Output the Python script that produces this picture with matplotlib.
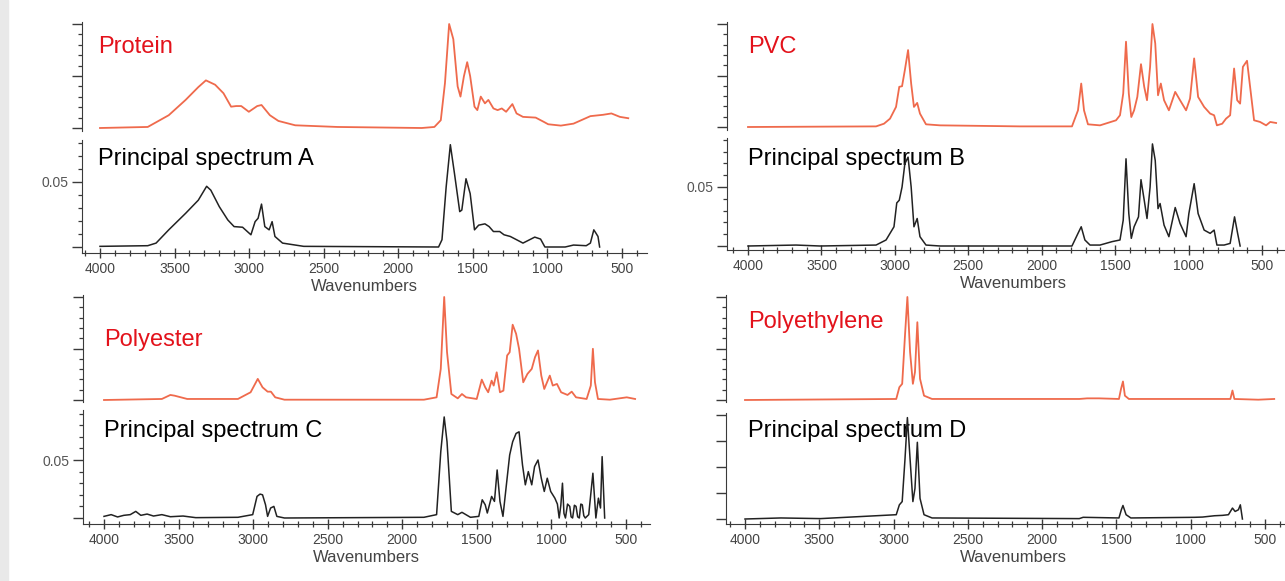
import matplotlib
matplotlib.use("Agg")
import matplotlib.pyplot as plt
from matplotlib.ticker import MultipleLocator, FixedLocator, FuncFormatter, NullLocator
from matplotlib.patches import Rectangle

plt.rcParams['font.family'] = ['Liberation Sans', 'DejaVu Sans']

# ---- data (wavenumber, value) ----
# Protein reference (normalised) and principal spectrum A (absorbance)
protein_wn = [4000, 3680, 3539, 3426, 3341, 3290, 3228, 3172, 3121, 3087, 3053, 3002, 2946, 2917,
              2861, 2804, 2691, 2408, 1843, 1758, 1715, 1687, 1659, 1631, 1602, 1583, 1560, 1538,
              1518, 1489, 1470, 1447, 1419, 1396, 1362, 1334, 1306, 1277, 1235, 1207, 1164, 1079,
              1023, 995, 910, 825, 712, 627, 571, 514, 458]
protein_val = [0, 0.01, 0.123, 0.27, 0.393, 0.458, 0.416, 0.334, 0.205, 0.211, 0.211, 0.156, 0.211,
               0.221, 0.123, 0.068, 0.026, 0.01, 0, 0.01, 0.075, 0.432, 1.0, 0.854, 0.4, 0.302,
               0.497, 0.633, 0.497, 0.205, 0.172, 0.302, 0.237, 0.27, 0.188, 0.172, 0.188, 0.156,
               0.23, 0.14, 0.107, 0.1, 0.058, 0.036, 0.023, 0.042, 0.114, 0.127, 0.14, 0.107, 0.094]
specA_wn = [4000, 3680, 3624, 3539, 3426, 3341, 3285, 3257, 3200, 3143, 3101, 3044, 2988, 2960,
            2940, 2917, 2895, 2866, 2846, 2827, 2776, 2634, 1730, 1707, 1679, 1651, 1623, 1588,
            1574, 1546, 1518, 1489, 1461, 1419, 1391, 1362, 1320, 1291, 1249, 1207, 1164, 1085,
            1046, 1017, 881, 825, 740, 712, 689, 675, 661, 650]
specA_val = [0.0005, 0.001, 0.003, 0.0132, 0.0259, 0.036, 0.0467, 0.0437, 0.031, 0.0208, 0.0157,
             0.0152, 0.0094, 0.0195, 0.0221, 0.033, 0.0157, 0.0132, 0.0195, 0.0081, 0.003, 0.0005,
             0, 0.0056, 0.0462, 0.0787, 0.0563, 0.0272, 0.0284, 0.0525, 0.0411, 0.0132, 0.0168,
             0.0178, 0.0157, 0.0119, 0.0119, 0.0094, 0.0081, 0.0056, 0.003, 0.0076, 0.0061, 0,
             0, 0.0015, 0.001, 0.003, 0.0132, 0.0107, 0.0081, 0]

# PVC reference and principal spectrum B
pvc_wn = [4000, 3128, 3074, 3033, 2992, 2970, 2951, 2932, 2910, 2889, 2870, 2848, 2829, 2788, 2692,
          2148, 1794, 1753, 1731, 1712, 1685, 1603, 1494, 1467, 1445, 1426, 1407, 1390, 1371, 1349,
          1324, 1302, 1283, 1262, 1246, 1227, 1208, 1189, 1167, 1134, 1091, 1058, 1017, 990, 962,
          935, 894, 853, 826, 807, 771, 745, 717, 690, 669, 649, 630, 602, 581, 554, 513, 472,
          444, 404]
pvc_val = [0, 0.006, 0.032, 0.081, 0.195, 0.39, 0.396, 0.552, 0.747, 0.422, 0.195, 0.234, 0.13,
           0.026, 0.016, 0.006, 0.006, 0.162, 0.422, 0.162, 0.026, 0.016, 0.065, 0.114, 0.325,
           0.828, 0.325, 0.097, 0.162, 0.292, 0.61, 0.39, 0.26, 0.584, 1.0, 0.812, 0.308, 0.422,
           0.26, 0.162, 0.341, 0.26, 0.162, 0.276, 0.666, 0.292, 0.195, 0.13, 0.114, 0.016, 0.032,
           0.081, 0.114, 0.568, 0.26, 0.227, 0.584, 0.643, 0.39, 0.065, 0.049, 0.016, 0.049, 0.039]
specB_wn = [4000, 3673, 3510, 3128, 3060, 3006, 2987, 2970, 2951, 2932, 2910, 2889, 2870, 2848,
            2829, 2788, 2692, 1794, 1753, 1731, 1706, 1671, 1603, 1521, 1467, 1445, 1426, 1407,
            1390, 1371, 1341, 1324, 1302, 1283, 1262, 1246, 1227, 1208, 1194, 1167, 1134, 1091,
            1058, 1017, 998, 962, 935, 894, 853, 826, 807, 758, 717, 687, 666, 649]
specB_val = [0, 0.0008, 0, 0.0008, 0.0051, 0.0163, 0.0365, 0.0388, 0.05, 0.0697, 0.0753, 0.05,
             0.0163, 0.0233, 0.0079, 0.0008, 0, 0, 0.0107, 0.0163, 0.0051, 0.0008, 0.0008, 0.0037,
             0.0051, 0.0219, 0.0739, 0.0275, 0.0065, 0.0163, 0.0247, 0.0562, 0.0388, 0.0233, 0.05,
             0.0865, 0.0725, 0.0317, 0.036, 0.0177, 0.0079, 0.0326, 0.0191, 0.0079, 0.0275, 0.0528,
             0.0275, 0.0135, 0.0107, 0.0135, 0.0008, 0.0008, 0.0022, 0.0247, 0.0107, 0]

# Polyester reference and principal spectrum C
polyester_wn = [4000, 3612, 3555, 3527, 3442, 3102, 3017, 2969, 2937, 2903, 2881, 2852, 2790, 1855,
                1770, 1742, 1719, 1700, 1671, 1628, 1600, 1572, 1501, 1467, 1444, 1424, 1401, 1387,
                1367, 1345, 1322, 1297, 1280, 1260, 1237, 1217, 1189, 1161, 1132, 1110, 1090, 1068,
                1048, 1011, 991, 963, 935, 892, 864, 835, 764, 736, 722, 708, 688, 608, 495, 439]
polyester_val = [0, 0.01, 0.049, 0.042, 0.01, 0.01, 0.075, 0.205, 0.123, 0.081, 0.081, 0.026, 0.003,
                 0.003, 0.026, 0.302, 1.0, 0.464, 0.058, 0.016, 0.058, 0.026, 0.01, 0.198, 0.123,
                 0.075, 0.188, 0.14, 0.269, 0.075, 0.091, 0.432, 0.464, 0.731, 0.643, 0.497, 0.172,
                 0.253, 0.302, 0.416, 0.481, 0.237, 0.107, 0.237, 0.14, 0.156, 0.075, 0.049, 0.081,
                 0.026, 0.01, 0.14, 0.497, 0.172, 0.01, 0.003, 0.026, 0.01]
specC_wn = [4000, 3952, 3909, 3867, 3824, 3787, 3753, 3711, 3668, 3612, 3555, 3470, 3385, 3102,
            3003, 2974, 2954, 2937, 2917, 2903, 2883, 2861, 2841, 2790, 1855, 1770, 1742, 1719,
            1700, 1671, 1628, 1600, 1543, 1487, 1464, 1444, 1430, 1401, 1382, 1364, 1345, 1325,
            1302, 1280, 1260, 1237, 1217, 1194, 1175, 1155, 1132, 1113, 1090, 1068, 1048, 1028,
            1005, 977, 960, 948, 937, 926, 916, 906, 892, 877, 868, 858, 846, 835, 824, 813, 803,
            793, 783, 773, 750, 722, 702, 685, 671, 660, 643]
specC_val = [0.0014, 0.0029, 0.0009, 0.0023, 0.0029, 0.0057, 0.0023, 0.0034, 0.0017, 0.0029, 0.0011,
             0.0017, 0.0003, 0.0006, 0.0029, 0.0186, 0.0206, 0.02, 0.0114, 0.0014, 0.0086, 0.01,
             0.0014, 0, 0.0006, 0.0029, 0.0571, 0.0871, 0.0657, 0.0057, 0.0029, 0.0049, 0.0006,
             0.0014, 0.0157, 0.0114, 0.0043, 0.0186, 0.0143, 0.0414, 0.0143, 0.0014, 0.0286, 0.0543,
             0.0657, 0.0729, 0.0743, 0.0457, 0.0286, 0.04, 0.0286, 0.0443, 0.05, 0.0343, 0.0229,
             0.0343, 0.0229, 0.0171, 0.012, 0, 0.011, 0.03, 0.004, 0, 0.012, 0.01, 0.001, 0, 0.011,
             0.01, 0.001, 0, 0.012, 0.0114, 0.002, 0, 0.0029, 0.0386, 0, 0.0171, 0.0086, 0.0529, 0]

# Polyethylene reference and principal spectrum D
polyethylene_wn = [4000, 2982, 2961, 2942, 2923, 2907, 2889, 2870, 2856, 2840, 2822, 2795, 2741, 1750,
                   1697, 1617, 1483, 1469, 1456, 1443, 1416, 733, 719, 706, 545, 438]
polyethylene_val = [0, 0.01, 0.124, 0.157, 0.631, 1.0, 0.467, 0.157, 0.271, 0.755, 0.206, 0.042,
                    0.01, 0.01, 0.016, 0.016, 0.01, 0.108, 0.18, 0.042, 0.01, 0.01, 0.092, 0.01,
                    0.003, 0.01]
specD_wn = [4000, 3759, 3491, 2982, 2961, 2942, 2923, 2907, 2889, 2870, 2856, 2840, 2822, 2795, 2741,
            1750, 1724, 1483, 1467, 1456, 1435, 1403, 974, 920, 840, 786, 746, 719, 701, 679, 666, 652]
specD_val = [0, 0.0008, 0.0003, 0.0033, 0.0109, 0.0134, 0.0463, 0.078, 0.0463, 0.0134, 0.0235, 0.059,
             0.0159, 0.0033, 0.0008, 0.0003, 0.0013, 0.0008, 0.0071, 0.0104, 0.0033, 0.0008, 0.0013,
             0.0015, 0.0025, 0.0028, 0.0033, 0.0084, 0.0058, 0.0071, 0.0109, 0]

ref_names = ["Protein", "PVC", "Polyester", "Polyethylene"]
pc_names = ["Principal spectrum A", "Principal spectrum B", "Principal spectrum C", "Principal spectrum D"]
x_ticks = [4000, 3500, 3000, 2500, 2000, 1500, 1000, 500]

W, H = 1285, 581
RED_LINE = "#ef6a4c"
RED_TEXT = "#e3121b"
AX_COL = "#3a3a3a"

fig = plt.figure(figsize=(W / 100, H / 100), dpi=100)
fig.patches.append(Rectangle((0, 0), 8 / W, 1, transform=fig.transFigure, color="#e9e9e9", zorder=0))


def rect(x0, x1, y0, y1):
    return [x0 / W, 1 - y1 / H, (x1 - x0) / W, (y1 - y0) / H]


def style_y(ax, major, minor):
    ax.spines[['top', 'right']].set_visible(False)
    ax.spines['left'].set_color(AX_COL)
    ax.yaxis.set_major_locator(major)
    ax.yaxis.set_minor_locator(minor)
    ax.tick_params(axis='y', which='major', direction='out', length=7, width=1, color=AX_COL,
                   labelsize=10, labelcolor="#555555", pad=3)
    ax.tick_params(axis='y', which='minor', direction='out', length=3, width=0.9, color=AX_COL)


def panel(px, ref, pc, names, label_px):
    # px: x = (left, right, x of 4000, x of 500), top/bot = pixel rows of the two stacked axes
    left, right, x4000, x500 = px['x']
    ppu = (x500 - x4000) / 3500.0
    xlim = (4000 + (x4000 - left) / ppu, 4000 - (right - x4000) / ppu)

    t0, t1, tz, tone = px['top']
    ax_t = fig.add_axes(rect(left, right, t0, t1))
    k = (tz - tone)
    ax_t.set_ylim(-(t1 - tz) / k, 1 + (tone - t0) / k)
    ax_t.set_xlim(*xlim)
    ax_t.patch.set_alpha(0)
    ax_t.spines['bottom'].set_visible(False)
    ax_t.set_xticks([])
    style_y(ax_t, FixedLocator([0, 0.5, 1]), MultipleLocator(0.1))
    ax_t.yaxis.set_major_formatter(FuncFormatter(lambda v, p: ''))
    ax_t.plot(ref[0], ref[1], color=RED_LINE, lw=1.3, zorder=3)
    ax_t.text(label_px[0] / W, 1 - label_px[1] / H, names[0], transform=fig.transFigure,
              color=RED_TEXT, fontsize=17, va='baseline', ha='left', zorder=1)

    b0, b1, bz, bmaj, step, show = px['bot']
    ax_b = fig.add_axes(rect(left, right, b0, b1))
    k = (bz - bmaj) / step
    ax_b.set_ylim(-(b1 - bz) / k, (bz - b0) / k)
    ax_b.set_xlim(*xlim)
    ax_b.patch.set_alpha(0)
    style_y(ax_b, MultipleLocator(step), MultipleLocator(step / 5) if show else NullLocator())
    ax_b.yaxis.set_major_formatter(
        FuncFormatter(lambda v, p: '0.05' if (show and abs(v - 0.05) < 1e-6) else ''))
    ax_b.spines['bottom'].set_color(AX_COL)
    ax_b.xaxis.set_major_locator(FixedLocator(x_ticks))
    ax_b.xaxis.set_minor_locator(MultipleLocator(100))
    ax_b.tick_params(axis='x', which='major', direction='inout', length=7, width=1, color=AX_COL,
                     labelsize=10, labelcolor="#444444", pad=3)
    ax_b.tick_params(axis='x', which='minor', direction='inout', length=4, width=0.9, color=AX_COL)
    ax_b.set_xlabel("Wavenumbers", fontsize=12, color="#444444", labelpad=2)
    ax_b.plot(pc[0], pc[1], color="#222222", lw=1.1, zorder=3)
    ax_b.text(label_px[0] / W, 1 - label_px[2] / H, names[1], transform=fig.transFigure,
              color="black", fontsize=17, va='baseline', ha='left', zorder=1)


panel({'x': (82, 647, 100, 622), 'top': (22, 131, 128, 24), 'bot': (140, 253, 247, 182, 0.05, True)},
      (protein_wn, protein_val), (specA_wn, specA_val), (ref_names[0], pc_names[0]), (98, 53, 165))
panel({'x': (727, 1300, 748, 1262), 'top': (22, 130, 127, 24), 'bot': (138, 250, 246, 187, 0.05, True)},
      (pvc_wn, pvc_val), (specB_wn, specB_val), (ref_names[1], pc_names[1]), (748, 53, 165))
panel({'x': (83, 650, 104, 626), 'top': (295, 402, 400, 297), 'bot': (410, 524, 518, 460, 0.05, True)},
      (polyester_wn, polyester_val), (specC_wn, specC_val), (ref_names[2], pc_names[2]), (104, 346, 437))
panel({'x': (726, 1300, 745, 1265), 'top': (295, 402, 400, 297), 'bot': (413, 524, 519, 493, 0.02, False)},
      (polyethylene_wn, polyethylene_val), (specD_wn, specD_val), (ref_names[3], pc_names[3]), (748, 328, 437))

fig.savefig("out.png", dpi=100)
